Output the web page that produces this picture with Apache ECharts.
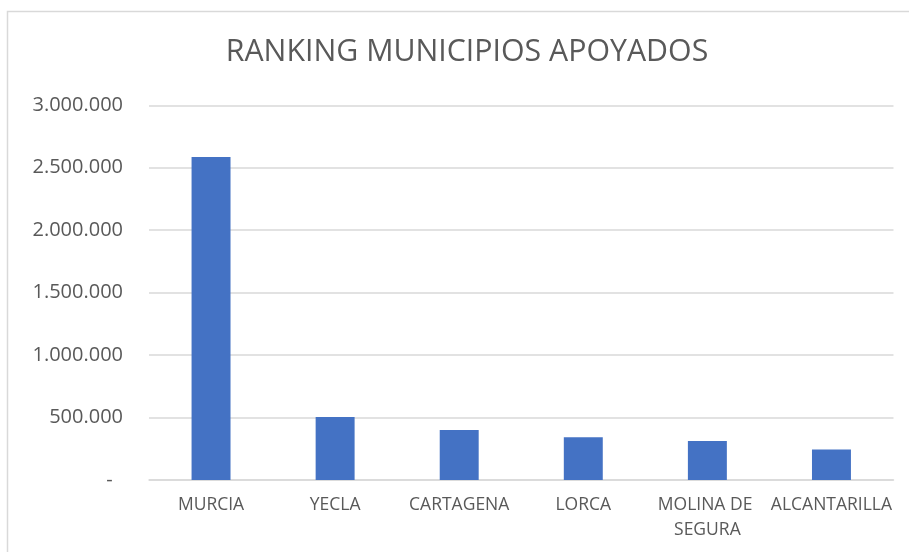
<!DOCTYPE html>
<html>
<head>
<meta charset="utf-8">
<script src="https://cdn.jsdelivr.net/npm/echarts@6/dist/echarts.min.js"></script>
<style>
html,body{margin:0;padding:0;background:#fff;}
#chart{width:909px;height:552px;}
</style>
</head>
<body>
<div id="chart"></div>
<script>
const titleText = 'RANKING MUNICIPIOS APOYADOS';
const categories = ['MURCIA', 'YECLA', 'CARTAGENA', 'LORCA', 'MOLINA DE SEGURA', 'ALCANTARILLA'];
const values = [2586000, 505000, 400000, 342000, 313000, 245000];
const yTicks = [0, 500000, 1000000, 1500000, 2000000, 2500000, 3000000];

function fmt(v) {
  if (v === 0) return '-  ';
  return String(v).replace(/\B(?=(\d{3})+(?!\d))/g, '.');
}

const chart = echarts.init(document.getElementById('chart'), null, {renderer: 'canvas'});
const FONT = '"Open Sans", sans-serif';
chart.setOption({
  animation: false,
  backgroundColor: '#ffffff',
  graphic: [{
    type: 'rect',
    shape: {x: 7.5, y: 11.5, width: 920, height: 560},
    style: {fill: 'none', stroke: '#d9d9d9', lineWidth: 1.5},
    silent: true, z: -10
  }],
  title: {
    text: titleText,
    left: 462,
    textAlign: 'center',
    top: 32,
    textStyle: {fontFamily: FONT, fontSize: 30.3, fontWeight: 'normal', color: '#595959'}
  },
  grid: {left: 149, right: 15.5, top: 105.3, bottom: 72, containLabel: false},
  xAxis: {
    type: 'category',
    data: categories,
    axisLine: {show: true, lineStyle: {color: '#d9d9d9', width: 1.5}},
    axisTick: {show: false},
    axisLabel: {
      interval: 0, margin: 13, color: '#595959', fontFamily: FONT, fontSize: 17.5,
      width: 122, overflow: 'break', lineHeight: 25
    }
  },
  yAxis: {
    type: 'value',
    min: yTicks[0],
    max: yTicks[yTicks.length - 1],
    interval: yTicks[1] - yTicks[0],
    axisLine: {show: false},
    axisTick: {show: false},
    splitLine: {lineStyle: {color: '#d9d9d9', width: 1.5}},
    axisLabel: {margin: 26, color: '#595959', fontFamily: FONT, fontSize: 20, formatter: fmt}
  },
  series: [{
    type: 'bar',
    data: values,
    barWidth: '31.4%',
    itemStyle: {color: '#4472c4'}
  }]
});
</script>
</body>
</html>
